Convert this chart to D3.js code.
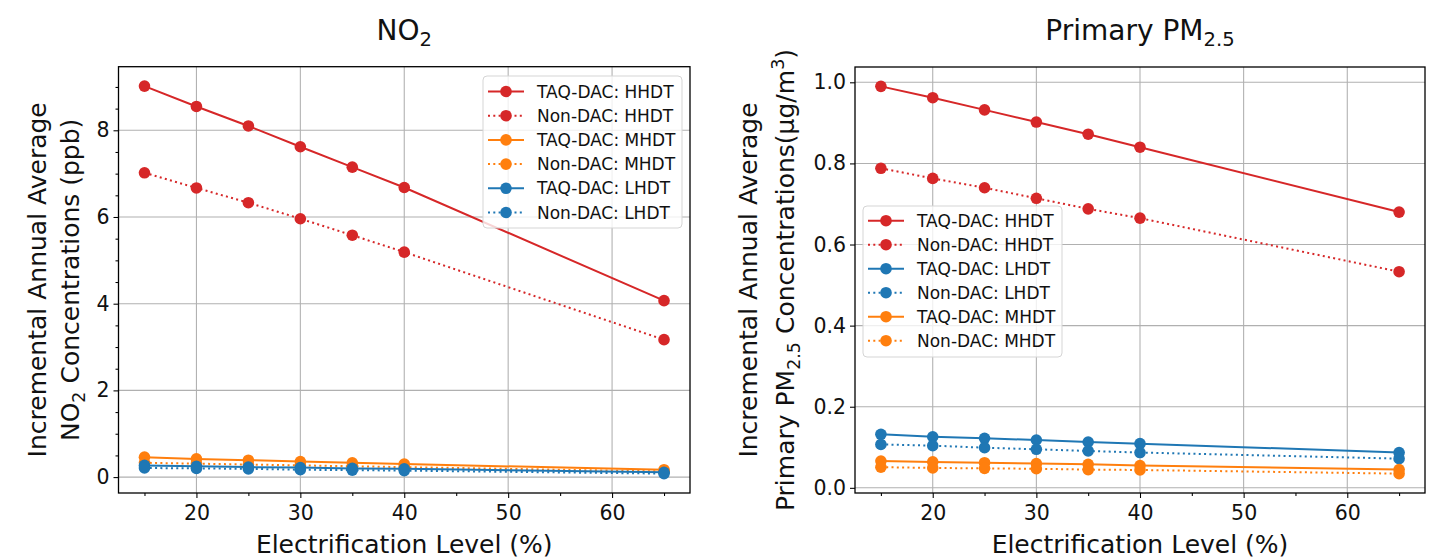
<!DOCTYPE html>
<html>
<head>
<meta charset="utf-8">
<script src="https://cdn.jsdelivr.net/npm/d3@7"></script>
<style>
  html, body { margin: 0; padding: 0; background: #fff; }
  svg { display: block; font-family: "DejaVu Sans", sans-serif; }
</style>
</head>
<body>
<svg id="chart" width="1443" height="560"></svg>
<script>
// Electrification levels (%)
const electrification = [15, 20, 25, 30, 35, 40, 65];

// NO2 incremental annual average concentrations (ppb)
const no2TaqHHDT = [9.02, 8.55, 8.10, 7.62, 7.15, 6.68, 4.07];
const no2NonHHDT = [7.02, 6.67, 6.33, 5.96, 5.58, 5.19, 3.17];
const no2TaqMHDT = [0.46, 0.42, 0.39, 0.36, 0.33, 0.30, 0.17];
const no2NonMHDT = [0.33, 0.31, 0.29, 0.27, 0.25, 0.23, 0.13];
const no2TaqLHDT = [0.27, 0.25, 0.23, 0.22, 0.20, 0.19, 0.11];
const no2NonLHDT = [0.21, 0.20, 0.19, 0.17, 0.16, 0.15, 0.08];

// Primary PM2.5 incremental annual average concentrations (µg/m³)
const pmTaqHHDT = [0.990, 0.962, 0.932, 0.902, 0.872, 0.840, 0.680];
const pmNonHHDT = [0.788, 0.763, 0.740, 0.714, 0.688, 0.665, 0.533];
const pmTaqLHDT = [0.132, 0.126, 0.122, 0.118, 0.113, 0.109, 0.087];
const pmNonLHDT = [0.107, 0.104, 0.099, 0.095, 0.091, 0.087, 0.072];
const pmTaqMHDT = [0.066, 0.064, 0.062, 0.060, 0.058, 0.055, 0.045];
const pmNonMHDT = [0.051, 0.049, 0.048, 0.047, 0.045, 0.044, 0.035];

// Tick values
const xMajorTicks = [20, 30, 40, 50, 60];
const xMinorTicks = [15, 25, 35, 45, 55, 65];
const no2YTicks = [0, 2, 4, 6, 8];
const no2YMinorTicks = [0.5, 1, 1.5, 2.5, 3, 3.5, 4.5, 5, 5.5, 6.5, 7, 7.5, 8.5, 9];
const pmYTicks = [0.0, 0.2, 0.4, 0.6, 0.8, 1.0];

const RED = "#d62728", ORANGE = "#ff7f0e", BLUE = "#1f77b4";

const panels = [
  {
    box: { x0: 118.5, x1: 690, y0: 66.7, y1: 493 },
    title: [["NO", "n"], ["2", "sub"]],
    ylab1: [["Incremental Annual Average", "n"]],
    ylab2: [["NO", "n"], ["2", "sub"], [" Concentrations (ppb)", "n"]],
    ylabX: [37, 70],
    yTicks: no2YTicks, yMinor: no2YMinorTicks, yFmt: d3.format("d"),
    legend: { x: 483, y: 76, w: 199, h: 152, first: 15.5, step: 24.2 },
    series: [
      { label: "TAQ-DAC: HHDT", values: no2TaqHHDT, color: RED, dotted: false },
      { label: "Non-DAC: HHDT", values: no2NonHHDT, color: RED, dotted: true },
      { label: "TAQ-DAC: MHDT", values: no2TaqMHDT, color: ORANGE, dotted: false },
      { label: "Non-DAC: MHDT", values: no2NonMHDT, color: ORANGE, dotted: true },
      { label: "TAQ-DAC: LHDT", values: no2TaqLHDT, color: BLUE, dotted: false },
      { label: "Non-DAC: LHDT", values: no2NonLHDT, color: BLUE, dotted: true }
    ]
  },
  {
    box: { x0: 855, x1: 1425, y0: 67, y1: 493 },
    title: [["Primary PM", "n"], ["2.5", "sub"]],
    ylab1: [["Incremental Annual Average", "n"]],
    ylab2: [["Primary PM", "n"], ["2.5", "sub"], [" Concentrations(\u03bcg/m", "n"], ["3", "sup"], [")", "n"]],
    ylabX: [748, 785],
    yTicks: pmYTicks, yMinor: [], yFmt: d3.format(".1f"),
    legend: { x: 863, y: 206, w: 199, h: 151, first: 14.7, step: 24 },
    series: [
      { label: "TAQ-DAC: HHDT", values: pmTaqHHDT, color: RED, dotted: false },
      { label: "Non-DAC: HHDT", values: pmNonHHDT, color: RED, dotted: true },
      { label: "TAQ-DAC: LHDT", values: pmTaqLHDT, color: BLUE, dotted: false },
      { label: "Non-DAC: LHDT", values: pmNonLHDT, color: BLUE, dotted: true },
      { label: "TAQ-DAC: MHDT", values: pmTaqMHDT, color: ORANGE, dotted: false },
      { label: "Non-DAC: MHDT", values: pmNonMHDT, color: ORANGE, dotted: true }
    ]
  }
];

const svg = d3.select("#chart");
const DOT = "2,3.3";
const R = 5.8;
const INK = "#111";

// Writes text pieces with sub/superscripts; the baseline shift of a script
// piece is undone on the following piece.
function richText(textSel, parts, size) {
  let carry = 0;
  parts.forEach(([str, kind]) => {
    const ts = textSel.append("tspan");
    let shift = 0;
    if (kind === "sub") shift = size * 0.22;
    if (kind === "sup") shift = -size * 0.42;
    ts.attr("font-size", kind === "n" ? size : size * 0.7)
      .attr("dy", carry + shift)
      .text(str);
    carry = -shift;
  });
}

panels.forEach(p => {
  const b = p.box;
  const allVals = p.series.flatMap(s => s.values);
  const lo = d3.min(allVals), hi = d3.max(allVals);
  const pad = (hi - lo) * 0.05;
  const xlo = d3.min(electrification), xhi = d3.max(electrification);
  const xpad = (xhi - xlo) * 0.05;

  const x = d3.scaleLinear().domain([xlo - xpad, xhi + xpad]).range([b.x0, b.x1]);
  const y = d3.scaleLinear().domain([lo - pad, hi + pad]).range([b.y1, b.y0]);

  const g = svg.append("g");
  const clipId = "clip" + Math.round(b.x0);
  g.append("clipPath").attr("id", clipId).append("rect")
    .attr("x", b.x0).attr("y", b.y0).attr("width", b.x1 - b.x0).attr("height", b.y1 - b.y0);

  // grid
  const grid = g.append("g").attr("stroke", "#b0b0b0").attr("stroke-width", 1.07);
  xMajorTicks.forEach(t => grid.append("line")
    .attr("x1", x(t)).attr("x2", x(t)).attr("y1", b.y0).attr("y2", b.y1));
  p.yTicks.forEach(t => grid.append("line")
    .attr("x1", b.x0).attr("x2", b.x1).attr("y1", y(t)).attr("y2", y(t)));

  // series
  const plot = g.append("g").attr("clip-path", `url(#${clipId})`);
  const line = d3.line().x((d, i) => x(electrification[i])).y(d => y(d));
  p.series.forEach(s => {
    plot.append("path").datum(s.values)
      .attr("d", line).attr("fill", "none")
      .attr("stroke", s.color).attr("stroke-width", 2)
      .attr("stroke-dasharray", s.dotted ? DOT : null);
    plot.selectAll(null).data(s.values).enter().append("circle")
      .attr("cx", (d, i) => x(electrification[i])).attr("cy", d => y(d))
      .attr("r", R).attr("fill", s.color);
  });

  // axes
  const xAxis = d3.axisBottom(x).tickValues(xMajorTicks).tickSize(5).tickPadding(4)
    .tickFormat(d3.format("d"));
  const xa = g.append("g").attr("transform", `translate(0,${b.y1})`).call(xAxis);
  const xMinorAxis = d3.axisBottom(x).tickValues(xMinorTicks).tickSize(3).tickFormat("");
  g.append("g").attr("transform", `translate(0,${b.y1})`).call(xMinorAxis);

  const yAxis = d3.axisLeft(y).tickValues(p.yTicks).tickSize(5).tickPadding(4)
    .tickFormat(p.yFmt);
  const ya = g.append("g").attr("transform", `translate(${b.x0},0)`).call(yAxis);
  if (p.yMinor.length) {
    g.append("g").attr("transform", `translate(${b.x0},0)`)
      .call(d3.axisLeft(y).tickValues(p.yMinor).tickSize(3).tickFormat(""));
  }
  g.selectAll(".domain").remove();
  g.selectAll(".tick line").attr("stroke", "#000").attr("stroke-width", 1.07);
  [xa, ya].forEach(a => a.selectAll("text")
    .attr("font-size", 20.5).attr("font-family", "DejaVu Sans").attr("fill", INK));
  xa.selectAll("text").attr("dy", "0.9em");

  // frame
  g.append("rect").attr("x", b.x0).attr("y", b.y0)
    .attr("width", b.x1 - b.x0).attr("height", b.y1 - b.y0)
    .attr("fill", "none").attr("stroke", "#000").attr("stroke-width", 1.3);

  // title
  const cx = (b.x0 + b.x1) / 2;
  const title = g.append("text").attr("x", cx).attr("y", 40)
    .attr("text-anchor", "middle").attr("fill", INK);
  richText(title, p.title, 28);

  // x label
  g.append("text").attr("x", cx).attr("y", 553).attr("text-anchor", "middle")
    .attr("font-size", 25).attr("fill", INK).text("Electrification Level (%)");

  // y label (two lines)
  const cy = (b.y0 + b.y1) / 2;
  [p.ylab1, p.ylab2].forEach((parts, i) => {
    const t = g.append("text")
      .attr("transform", `translate(${p.ylabX[i]},${cy}) rotate(-90)`)
      .attr("y", 25 * 0.36).attr("text-anchor", "middle").attr("fill", INK);
    richText(t, parts, 25);
  });

  // legend
  const L = p.legend;
  const lg = g.append("g");
  lg.append("rect").attr("x", L.x).attr("y", L.y).attr("width", L.w).attr("height", L.h)
    .attr("rx", 4).attr("fill", "#fff").attr("fill-opacity", 0.8)
    .attr("stroke", "#d5d5d5").attr("stroke-width", 1);
  p.series.forEach((s, i) => {
    const ry = L.y + L.first + i * L.step;
    lg.append("line").attr("x1", L.x + 5).attr("x2", L.x + 41).attr("y1", ry).attr("y2", ry)
      .attr("stroke", s.color).attr("stroke-width", 2)
      .attr("stroke-dasharray", s.dotted ? DOT : null);
    lg.append("circle").attr("cx", L.x + 23).attr("cy", ry).attr("r", R).attr("fill", s.color);
    lg.append("text").attr("x", L.x + 54).attr("y", ry).attr("dy", "0.36em")
      .attr("font-size", 17).attr("fill", INK).text(s.label);
  });
});
</script>
</body>
</html>
